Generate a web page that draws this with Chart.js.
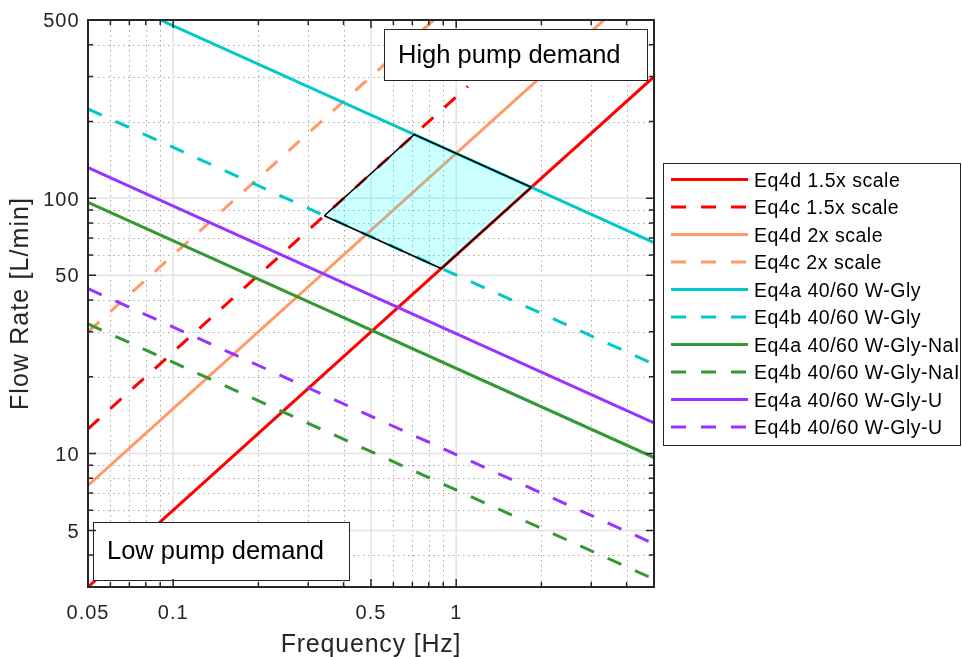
<!DOCTYPE html>
<html><head><meta charset="utf-8">
<script src="https://cdn.jsdelivr.net/npm/chart.js@4.4.1/dist/chart.umd.min.js"></script>
<style>html,body{margin:0;padding:0;background:#fff;}#wrap{position:relative;width:962px;height:657px;}</style>
</head><body><div id="wrap"><canvas id="c" width="962" height="657"></canvas></div>
<script>
// ---- tick values ----
const xTicks = [0.05, 0.1, 0.5, 1];
const yTicks = [5, 10, 50, 100, 500];
const xMinor = [0.06, 0.07, 0.08, 0.09, 0.2, 0.3, 0.4, 0.6, 0.7, 0.8, 0.9, 2, 3, 4];
const yMinor = [4, 6, 7, 8, 9, 20, 30, 40, 60, 70, 80, 90, 200, 300, 400];

// ---- series (frequency Hz, flow L/min) ----
const eq4d_1p5x = [[0.05, 3], [5, 300]];
const eq4c_1p5x = [[0.05, 12.5], [1.1, 275]];
const eq4d_2x = [[0.05, 7.5], [3.33, 500]];
const eq4c_2x = [[0.05, 30], [0.833, 500]];
const eq4a_wgly = [[0.09, 500], [5, 67]];
const eq4b_wgly = [[0.05, 224], [5, 22.4]];
const eq4a_wglynai = [[0.05, 96.5], [5, 9.65]];
const eq4b_wglynai = [[0.05, 32.2], [5, 3.22]];
const eq4a_wglyu = [[0.05, 132], [5, 13.2]];
const eq4b_wglyu = [[0.05, 44.3], [5, 4.43]];
const demandRegion = [[0.342, 85.5], [0.711, 178], [1.842, 110.5], [0.885, 53.1], [0.342, 85.5]];

const seriesLabels = ['Eq4d 1.5x scale', 'Eq4c 1.5x scale', 'Eq4d 2x scale', 'Eq4c 2x scale',
  'Eq4a 40/60 W-Gly', 'Eq4b 40/60 W-Gly', 'Eq4a 40/60 W-Gly-NaI', 'Eq4b 40/60 W-Gly-NaI',
  'Eq4a 40/60 W-Gly-U', 'Eq4b 40/60 W-Gly-U'];
const seriesData = [eq4d_1p5x, eq4c_1p5x, eq4d_2x, eq4c_2x, eq4a_wgly, eq4b_wgly,
  eq4a_wglynai, eq4b_wglynai, eq4a_wglyu, eq4b_wglyu];
const seriesColors = ['#ff0000', '#ff0000', '#ff9966', '#ff9966', '#00c8c8', '#00c8c8',
  '#339933', '#339933', '#9933ff', '#9933ff'];
const seriesDashed = [false, true, false, true, false, true, false, true, false, true];

const DASH = [15, 15];
const FONT = '"Liberation Sans", Arial, Helvetica, sans-serif';
const TXT = '#262626';

const datasets = seriesData.map((pts, i) => ({
  label: seriesLabels[i],
  data: pts.map(p => ({x: p[0], y: p[1]})),
  showLine: true, pointRadius: 0, borderWidth: 3,
  borderColor: seriesColors[i], backgroundColor: seriesColors[i],
  borderDash: seriesDashed[i] ? DASH : [],
  fill: false, order: -i
}));
datasets.push({
  label: 'region', isPatch: true,
  data: demandRegion.map(p => ({x: p[0], y: p[1]})),
  showLine: true, pointRadius: 0, borderWidth: 1.5,
  borderColor: '#000000', backgroundColor: 'rgba(0,255,255,0.2)',
  fill: 'shape', order: -100
});

function txt(ctx, s, x, y, font, align, base, ls, color) {
  ctx.font = font;
  ctx.textAlign = align;
  ctx.textBaseline = base;
  ctx.fillStyle = color;
  try { ctx.letterSpacing = ls + 'px'; } catch (e) {}
  ctx.fillText(s, x, y);
  try { ctx.letterSpacing = '0px'; } catch (e) {}
}

const framePlugin = {
  id: 'frame',
  beforeDatasetsDraw(chart) {
    const {ctx, chartArea: a, scales: {x, y}} = chart;
    ctx.save();
    ctx.lineWidth = 1;
    ctx.strokeStyle = 'rgba(140,140,140,0.75)';
    ctx.setLineDash([1.5, 3.5]);
    ctx.beginPath();
    xMinor.forEach(v => { const p = Math.round(x.getPixelForValue(v)) + 0.5; ctx.moveTo(p, a.top); ctx.lineTo(p, a.bottom); });
    yMinor.forEach(v => { const p = Math.round(y.getPixelForValue(v)) + 0.5; ctx.moveTo(a.left, p); ctx.lineTo(a.right, p); });
    ctx.stroke();
    ctx.setLineDash([]);
    ctx.strokeStyle = '#e2e2e2';
    ctx.lineWidth = 1.5;
    ctx.beginPath();
    xTicks.forEach(v => { const p = x.getPixelForValue(v); ctx.moveTo(p, a.top); ctx.lineTo(p, a.bottom); });
    yTicks.forEach(v => { const p = y.getPixelForValue(v); ctx.moveTo(a.left, p); ctx.lineTo(a.right, p); });
    ctx.stroke();
    ctx.restore();
  },
  afterDatasetsDraw(chart) {
    const {ctx, chartArea: a, scales: {x, y}} = chart;
    ctx.save();
    // annotation boxes
    const boxes = [
      {text: 'High pump demand', l: a.left + 296, t: a.top + 9, w: 263, h: 51},
      {text: 'Low pump demand', l: a.left + 5, t: a.top + 502, w: 256, h: 58}
    ];
    boxes.forEach(b => {
      ctx.fillStyle = '#ffffff';
      ctx.fillRect(b.l, b.t, b.w, b.h);
      ctx.strokeStyle = '#262626';
      ctx.lineWidth = 1;
      ctx.strokeRect(b.l + 0.5, b.t + 0.5, b.w, b.h);
      txt(ctx, b.text, b.l + 14, b.t + b.h / 2 + 1, '25.5px ' + FONT, 'left', 'middle', 0, '#000000');
    });
    // axes frame
    ctx.strokeStyle = TXT;
    ctx.lineWidth = 2;
    ctx.strokeRect(a.left, a.top, a.right - a.left, a.bottom - a.top);
    // tick marks (inside, all four sides)
    ctx.lineWidth = 1.5;
    ctx.beginPath();
    const xt = (vals, len) => vals.forEach(v => { const p = x.getPixelForValue(v);
      ctx.moveTo(p, a.bottom); ctx.lineTo(p, a.bottom - len); ctx.moveTo(p, a.top); ctx.lineTo(p, a.top + len); });
    const yt = (vals, len) => vals.forEach(v => { const p = y.getPixelForValue(v);
      ctx.moveTo(a.left, p); ctx.lineTo(a.left + len, p); ctx.moveTo(a.right, p); ctx.lineTo(a.right - len, p); });
    xt(xTicks, 8); xt(xMinor, 5); yt(yTicks, 8); yt(yMinor, 5);
    ctx.stroke();
    // tick labels
    const tf = '20px ' + FONT;
    xTicks.forEach(v => txt(ctx, String(v), x.getPixelForValue(v), 618.5, tf, 'center', 'alphabetic', 1, TXT));
    yTicks.forEach(v => txt(ctx, String(v), 79.5, y.getPixelForValue(v) + 7.2, tf, 'right', 'alphabetic', 1, TXT));
    // axis titles
    txt(ctx, 'Frequency [Hz]', (a.left + a.right) / 2, 652, '25px ' + FONT, 'center', 'alphabetic', 0.8, TXT);
    ctx.save();
    ctx.translate(28, (a.top + a.bottom) / 2);
    ctx.rotate(-Math.PI / 2);
    txt(ctx, 'Flow Rate [L/min]', 0, 0, '25px ' + FONT, 'center', 'alphabetic', 1.1, TXT);
    ctx.restore();
    ctx.restore();
  },
  afterDraw(chart) {
    const {ctx} = chart;
    ctx.save();
    const L = 663, T = 163, W = 298, H = 282;
    ctx.fillStyle = '#ffffff';
    ctx.fillRect(L, T, W, H);
    ctx.strokeStyle = '#262626';
    ctx.lineWidth = 1;
    ctx.strokeRect(L + 0.5, T + 0.5, W - 1, H);
    chart.data.datasets.forEach((ds, i) => {
      if (ds.isPatch) return;
      const yc = 179.5 + i * 27.5;
      ctx.strokeStyle = ds.borderColor;
      ctx.lineWidth = 3;
      ctx.setLineDash(ds.borderDash || []);
      ctx.beginPath();
      ctx.moveTo(671, yc); ctx.lineTo(748, yc);
      ctx.stroke();
      ctx.setLineDash([]);
      txt(ctx, ds.label, 754, yc + 7, '19.5px ' + FONT, 'left', 'alphabetic', 0.5, '#000000');
    });
    ctx.restore();
  }
};

new Chart(document.getElementById('c'), {
  type: 'scatter',
  data: {datasets},
  options: {
    responsive: false, animation: false, events: [],
    layout: {padding: {left: 0, top: 20, right: 308, bottom: 0}},
    plugins: {legend: {display: false}, tooltip: {enabled: false}},
    scales: {
      x: {
        type: 'logarithmic', min: 0.05, max: 5,
        afterBuildTicks: s => { s.ticks = xTicks.map(v => ({value: v})); },
        afterFit: s => { s.height = 70; },
        grid: {display: false, drawTicks: false}, border: {display: false},
        ticks: {display: false}
      },
      y: {
        type: 'logarithmic', min: 3, max: 500,
        afterBuildTicks: s => { s.ticks = yTicks.map(v => ({value: v})); },
        afterFit: s => { s.width = 88; },
        grid: {display: false, drawTicks: false}, border: {display: false},
        ticks: {display: false}
      }
    }
  },
  plugins: [framePlugin]
});
</script></body></html>
